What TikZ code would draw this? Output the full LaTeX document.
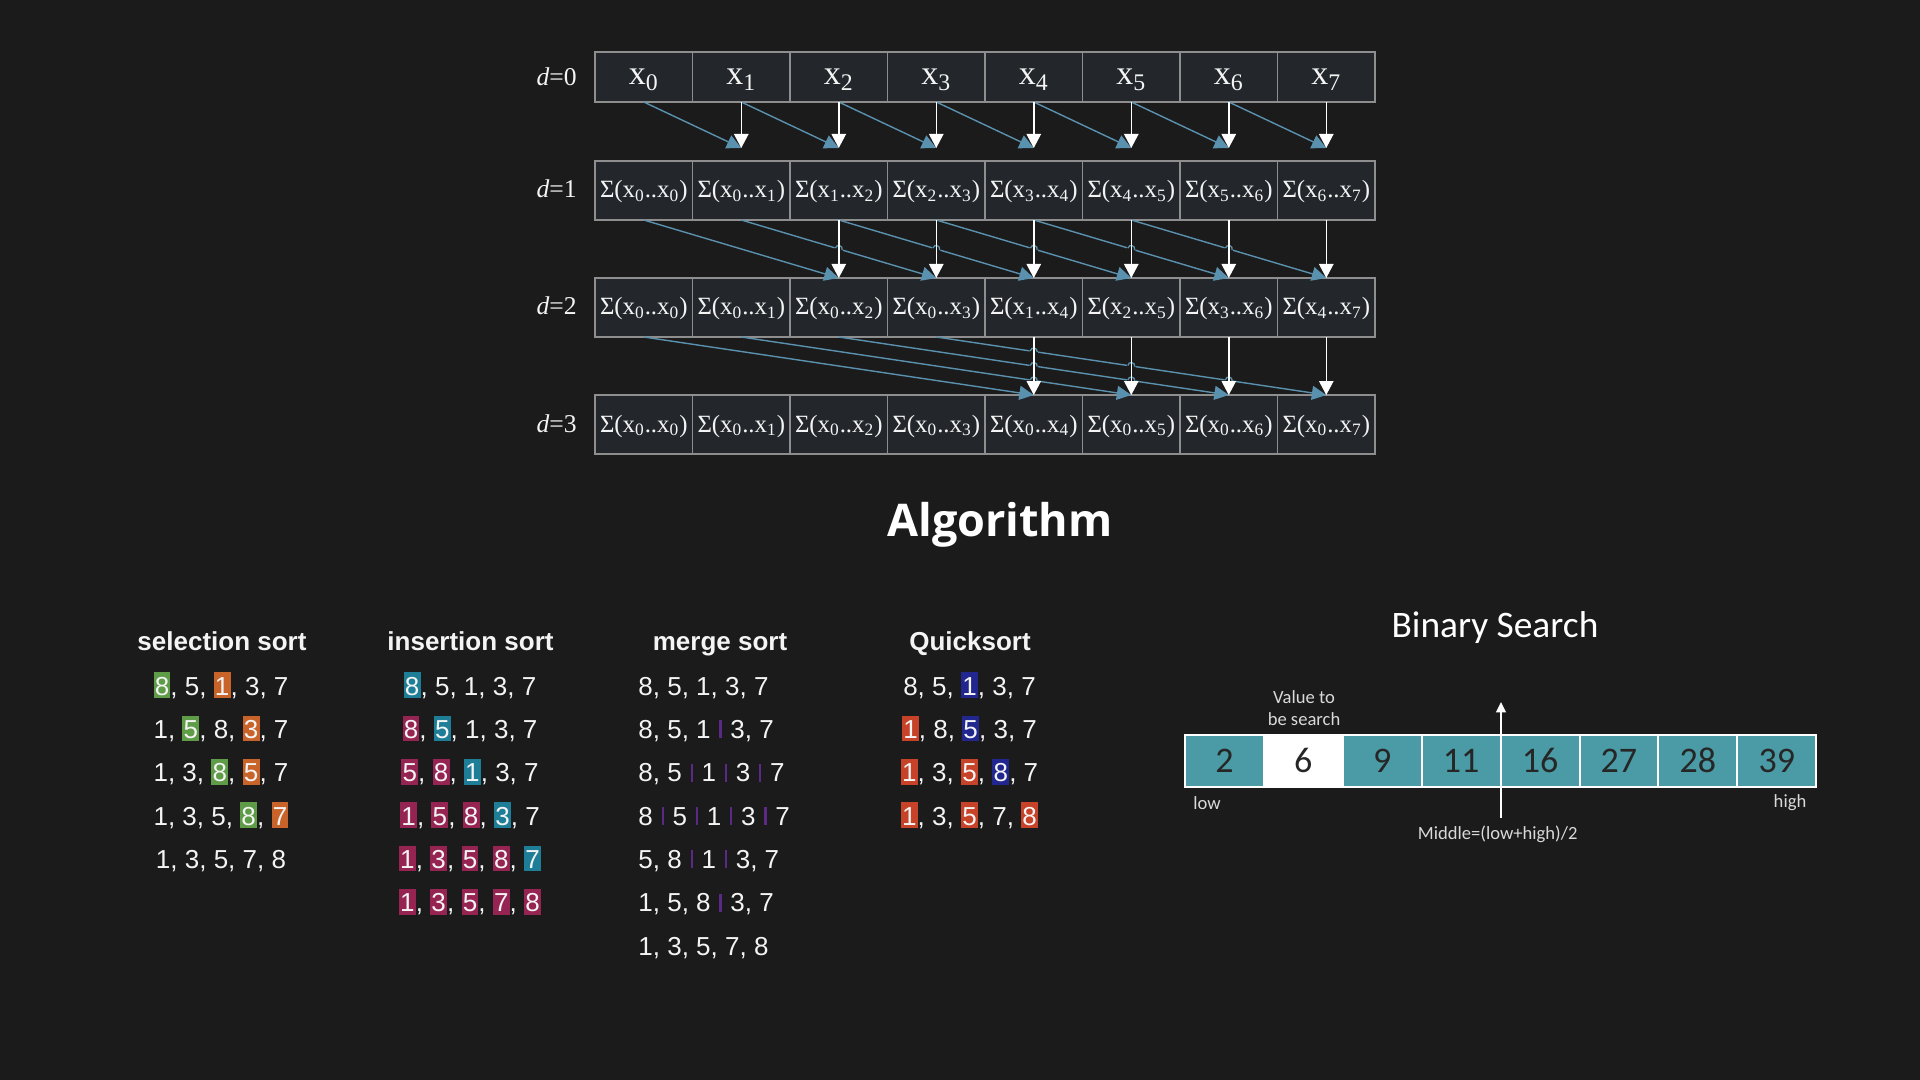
\documentclass[tikz,border=0pt]{standalone}
\usepackage{fontspec}
\setmainfont{Liberation Serif}
\newfontfamily\sortfont{Liberation Sans}
\newfontfamily\calfont{Carlito}
\newfontfamily\headfont{Open Sans}
\usetikzlibrary{arrows.meta,calc}

\definecolor{bgc}{HTML}{1B1B1B}
\definecolor{cellfill}{HTML}{23272B}
\definecolor{cellline}{HTML}{8E8E8E}
\definecolor{sumblue}{HTML}{5A91AE}
\definecolor{selgreen}{HTML}{5E9C48}
\definecolor{selorange}{HTML}{C8642A}
\definecolor{insteal}{HTML}{1E7E98}
\definecolor{inscrimson}{HTML}{962452}
\definecolor{qnavy}{HTML}{21278F}
\definecolor{qred}{HTML}{C6432A}
\definecolor{mergebar}{HTML}{5A2A86}
\definecolor{bsteal}{HTML}{4A9BA6}
\definecolor{bsdigit}{HTML}{262626}
\definecolor{labelgray}{HTML}{D9D9D9}
\definecolor{textwhite}{HTML}{F4F4F4}

\newcommand\sumtxt[2]{Σ(x\textsubscript{#1}..x\textsubscript{#2})}
\newcommand\hlb[2]{{\setlength{\fboxsep}{0pt}\colorbox{#1}{\rule[-1.5pt]{0pt}{12.8pt}\kern0.6pt#2\kern0.6pt}}}
\newcommand\mbar{\hspace{4.4pt}{\color{mergebar}\rule{1.1pt}{9pt}}\hspace{4.4pt}}
\newcommand\hopmark[3]{%
  \draw[draw=bgc, line width=2.2pt] ($(#1,#2)+(#3+180:4.2)$) -- ($(#1,#2)+(#3:4.2)$);
  \draw[draw=sumblue, line width=0.65pt] ($(#1,#2)+(#3+180:3.5)$) .. controls +(#3-90:4.6) and +(#3-90:4.6) .. ($(#1,#2)+(#3:3.5)$);
}

\tikzset{
  cellbase/.style={draw=cellline, fill=cellfill, line width=0.7pt, minimum width=48.75pt,
    inner sep=0pt, outer sep=0pt, text=textwhite},
  cellzero/.style={cellbase, minimum height=25pt, text height=10pt, text depth=2pt,
    font=\fontsize{17}{19}\selectfont},
  cellrow/.style={cellbase, minimum height=29.5pt, text height=9.5pt, text depth=2pt,
    font=\fontsize{12.4}{14}\selectfont},
  dlabel/.style={text=textwhite, inner sep=0pt, font=\fontsize{12.8}{14}\selectfont},
  warrow/.style={draw=white, line width=0.75pt, -{Triangle[width=7.2pt,length=7pt]}},
  barrow/.style={draw=sumblue, line width=0.7pt, -{Triangle[width=7pt,length=7.2pt]}},
  sortrow/.style={text=textwhite, inner sep=0pt, font=\sortfont\fontsize{13}{15}\selectfont},
  sorttitle/.style={text=textwhite, inner sep=0pt, font=\sortfont\bfseries\fontsize{13}{15}\selectfont},
  bscell/.style={draw=white, line width=1pt, fill=bsteal, minimum width=39.45pt, minimum height=26pt,
    inner sep=0pt, outer sep=0pt, text=bsdigit, text height=11pt, text depth=0pt,
    font=\calfont\fontsize{18}{20}\selectfont},
  bslabel/.style={text=labelgray, inner sep=0pt, font=\calfont\fontsize{9.3}{11}\selectfont},
}

\begin{document}
\begin{tikzpicture}[x=0.5pt,y=-0.5pt]
\fill[bgc] (0,0) rectangle (1920,1080);
\useasboundingbox (0,0) rectangle (1920,1080);

% ---------- prefix-sum grid ----------
\foreach \i in {0,...,7}{
  \node[cellzero] (r0-\i) at ({643.75+97.5*\i},77) {x\textsubscript{\i}};
}
\foreach \i in {0,...,7}{
  \pgfmathtruncatemacro\sa{max(\i-1,0)}
  \node[cellrow] (r1-\i) at ({643.75+97.5*\i},190.5) {\sumtxt{\sa}{\i}};
}
\foreach \i in {0,...,7}{
  \pgfmathtruncatemacro\sa{max(\i-3,0)}
  \node[cellrow] (r2-\i) at ({643.75+97.5*\i},307.5) {\sumtxt{\sa}{\i}};
}
\foreach \i in {0,...,7}{
  \node[cellrow] (r3-\i) at ({643.75+97.5*\i},424.5) {\sumtxt{0}{\i}};
}

\node[dlabel, anchor=base east] (d0) at (577,85.7) {\textit{d}=0};
\node[dlabel, anchor=base east] (d1) at (577,197.5) {\textit{d}=1};
\node[dlabel, anchor=base east] (d2) at (577,315) {\textit{d}=2};
\node[dlabel, anchor=base east] (d3) at (577,432) {\textit{d}=3};

\foreach \i in {1,...,7}{
  \coordinate (t1-\i) at ($(r1-\i.north)+(0,-13)$);
}

% blue connectors
\foreach \j in {0,...,6}{
  \pgfmathtruncatemacro\k{\j+1}
  \draw[barrow] (r0-\j.south) -- (t1-\k);
}
\foreach \j in {0,...,5}{
  \pgfmathtruncatemacro\k{\j+2}
  \draw[barrow] (r1-\j.south) -- (r2-\k.north);
}
\foreach \j in {0,...,3}{
  \pgfmathtruncatemacro\k{\j+4}
  \draw[barrow] (r2-\j.south) -- (r3-\k.north);
}

% line hops
\foreach \j in {1,...,5}{
  \pgfmathsetmacro\hx{643.75+97.5*(\j+1)}
  \hopmark{\hx}{249}{16.56}
}
\foreach \j/\k in {1/4,2/4,2/5,3/4,3/5,3/6}{
  \pgfmathsetmacro\hx{643.75+97.5*\k}
  \pgfmathsetmacro\hy{337+58*(\k-\j)/4}
  \hopmark{\hx}{\hy}{8.46}
}

% white connectors
\foreach \i in {1,...,7}{
  \draw[warrow] (r0-\i.south) -- (t1-\i);
}
\foreach \i in {2,...,7}{
  \draw[warrow] (r1-\i.south) -- (r2-\i.north);
}
\foreach \i in {4,...,7}{
  \draw[warrow] (r2-\i.south) -- (r3-\i.north);
}

% ---------- title ----------
\node[text=white, inner sep=0pt, anchor=base, font=\headfont\bfseries\fontsize{22.5}{26}\selectfont] (alg) at (1000,536.7) {Algorithm};

% ---------- sorting ----------
\node[sorttitle, anchor=base] (sel-t) at (222,650) {selection sort};
\node[sorttitle, anchor=base] (ins-t) at (470.5,650) {insertion sort};
\node[sorttitle, anchor=base] (mrg-t) at (720,650) {merge sort};
\node[sorttitle, anchor=base] (qs-t) at (970,650) {Quicksort};

\node[sortrow, anchor=base] (sel-1) at (221,695) {\hlb{selgreen}{8}, 5, \hlb{selorange}{1}, 3, 7};
\node[sortrow, anchor=base] (sel-2) at (221,738.3) {1, \hlb{selgreen}{5}, 8, \hlb{selorange}{3}, 7};
\node[sortrow, anchor=base] (sel-3) at (221,781.7) {1, 3, \hlb{selgreen}{8}, \hlb{selorange}{5}, 7};
\node[sortrow, anchor=base] (sel-4) at (221,825) {1, 3, 5, \hlb{selgreen}{8}, \hlb{selorange}{7}};
\node[sortrow, anchor=base] (sel-5) at (221,868.3) {1, 3, 5, 7, 8};

\node[sortrow, anchor=base] (ins-1) at (470,695) {\hlb{insteal}{8}, 5, 1, 3, 7};
\node[sortrow, anchor=base] (ins-2) at (470,738.3) {\hlb{inscrimson}{8}, \hlb{insteal}{5}, 1, 3, 7};
\node[sortrow, anchor=base] (ins-3) at (470,781.7) {\hlb{inscrimson}{5}, \hlb{inscrimson}{8}, \hlb{insteal}{1}, 3, 7};
\node[sortrow, anchor=base] (ins-4) at (470,825) {\hlb{inscrimson}{1}, \hlb{inscrimson}{5}, \hlb{inscrimson}{8}, \hlb{insteal}{3}, 7};
\node[sortrow, anchor=base] (ins-5) at (470,868.3) {\hlb{inscrimson}{1}, \hlb{inscrimson}{3}, \hlb{inscrimson}{5}, \hlb{inscrimson}{8}, \hlb{insteal}{7}};
\node[sortrow, anchor=base] (ins-6) at (470,911.7) {\hlb{inscrimson}{1}, \hlb{inscrimson}{3}, \hlb{inscrimson}{5}, \hlb{inscrimson}{7}, \hlb{inscrimson}{8}};

\node[sortrow, anchor=base west] (mrg-1) at (638,695) {8, 5, 1, 3, 7};
\node[sortrow, anchor=base west] (mrg-2) at (638,738.3) {8, 5, 1\mbar 3, 7};
\node[sortrow, anchor=base west] (mrg-3) at (638,781.7) {8, 5\mbar 1\mbar 3\mbar 7};
\node[sortrow, anchor=base west] (mrg-4) at (638,825) {8\mbar 5\mbar 1\mbar 3\mbar 7};
\node[sortrow, anchor=base west] (mrg-5) at (638,868.3) {5, 8\mbar 1\mbar 3, 7};
\node[sortrow, anchor=base west] (mrg-6) at (638,911.7) {1, 5, 8\mbar 3, 7};
\node[sortrow, anchor=base west] (mrg-7) at (638,955) {1, 3, 5, 7, 8};

\node[sortrow, anchor=base] (qs-1) at (969.5,695) {8, 5, \hlb{qnavy}{1}, 3, 7};
\node[sortrow, anchor=base] (qs-2) at (969.5,738.3) {\hlb{qred}{1}, 8, \hlb{qnavy}{5}, 3, 7};
\node[sortrow, anchor=base] (qs-3) at (969.5,781.7) {\hlb{qred}{1}, 3, \hlb{qred}{5}, \hlb{qnavy}{8}, 7};
\node[sortrow, anchor=base] (qs-4) at (969.5,825) {\hlb{qred}{1}, 3, \hlb{qred}{5}, 7, \hlb{qred}{8}};

% ---------- binary search ----------
\node[text=white, inner sep=0pt, anchor=base, font=\calfont\fontsize{18.7}{22}\selectfont] (bs-t) at (1495,637) {Binary Search};
\foreach \v [count=\n from 0] in {2,6,9,11,16,27,28,39}{
  \ifnum\n=1
    \node[bscell, fill=white] (bs-\n) at ({1185+78.9*\n+39.45},761) {\v};
  \else
    \node[bscell] (bs-\n) at ({1185+78.9*\n+39.45},761) {\v};
  \fi
}
\coordinate (midlow) at (1501,818);
\coordinate (midtop) at (1501,702);
\draw[draw=white, line width=1.1pt, -{Triangle[width=4.8pt,length=5.2pt]}] (midlow) -- (midtop);

\node[bslabel, align=center] (val) at (1304,708) {Value to\\be search};
\node[bslabel] (low) at (1207,803) {low};
\node[bslabel] (high) at (1790,803) {high};
\node[bslabel] (mid) at (1497.7,834) {Middle=(low+high)/2};
\end{tikzpicture}
\end{document}
